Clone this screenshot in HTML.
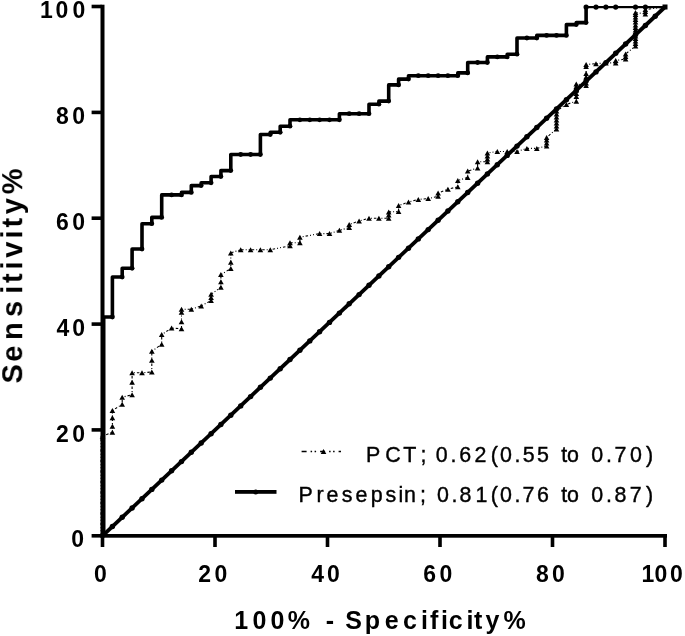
<!DOCTYPE html>
<html><head><meta charset="utf-8"><title>ROC</title>
<style>
html,body{margin:0;padding:0;background:#fff;}
body{width:685px;height:636px;overflow:hidden;}
svg{display:block;font-family:"Liberation Sans",Arial,sans-serif;}
</style></head><body>
<svg width="685" height="636" viewBox="0 0 685 636">
<defs><filter id="bl" x="-5%" y="-5%" width="110%" height="110%"><feGaussianBlur stdDeviation="0.55"/></filter></defs>
<rect width="685" height="636" fill="#fff"/>
<g filter="url(#bl)">
<g fill="#000">
<rect x="100.5" y="4.7" width="4" height="533"/>
<rect x="100.5" y="534" width="566.5" height="3.7"/>
<rect x="91.6" y="534.0" width="10" height="3.6"/><rect x="91.6" y="428.1" width="10" height="3.6"/><rect x="91.6" y="322.3" width="10" height="3.6"/><rect x="91.6" y="216.4" width="10" height="3.6"/><rect x="91.6" y="110.6" width="10" height="3.6"/><rect x="91.6" y="4.7" width="10" height="3.6"/><rect x="100.7" y="536" width="3.6" height="11"/><rect x="213.2" y="536" width="3.6" height="11"/><rect x="325.7" y="536" width="3.6" height="11"/><rect x="438.2" y="536" width="3.6" height="11"/><rect x="550.7" y="536" width="3.6" height="11"/><rect x="663.2" y="536" width="3.6" height="11"/>
</g>
<g fill="#000"><text x="71.3" y="0" font-size="23" font-weight="bold" transform="translate(0,547.4) scale(1,1.05)" xml:space="preserve">0</text><text x="55.9 72.2" y="0" font-size="23" font-weight="bold" transform="translate(0,441.5) scale(1,1.05)" xml:space="preserve">20</text><text x="56.4 72.2" y="0" font-size="23" font-weight="bold" transform="translate(0,335.7) scale(1,1.05)" xml:space="preserve">40</text><text x="55.9 72.2" y="0" font-size="23" font-weight="bold" transform="translate(0,229.8) scale(1,1.05)" xml:space="preserve">60</text><text x="56.0 72.2" y="0" font-size="23" font-weight="bold" transform="translate(0,124.0) scale(1,1.05)" xml:space="preserve">80</text><text x="39.9 55.6 72.4" y="0" font-size="23" font-weight="bold" transform="translate(0,18.1) scale(1,1.05)" xml:space="preserve">100</text><text x="94.0" y="0" font-size="23" font-weight="bold" transform="translate(0,581.7) scale(1,1.05)" xml:space="preserve">0</text><text x="198.3 214.6" y="0" font-size="23" font-weight="bold" transform="translate(0,581.7) scale(1,1.05)" xml:space="preserve">20</text><text x="311.3 327.1" y="0" font-size="23" font-weight="bold" transform="translate(0,581.7) scale(1,1.05)" xml:space="preserve">40</text><text x="423.3 439.6" y="0" font-size="23" font-weight="bold" transform="translate(0,581.7) scale(1,1.05)" xml:space="preserve">60</text><text x="535.9 552.1" y="0" font-size="23" font-weight="bold" transform="translate(0,581.7) scale(1,1.05)" xml:space="preserve">80</text><text x="641.6 654.4 670.1" y="0" font-size="23" font-weight="bold" transform="translate(0,581.7) scale(1,1.05)" xml:space="preserve">100</text>
<text x="234.2 252.4 270.6 287.8 310.0 325.7 334.0 345.2 364.8 384.7 403.1 420.9 430.1 441.1 448.8 466.5 474.0 485.5 503.5" y="628.9" font-size="25" font-weight="bold" xml:space="preserve">100% - Specificity%</text>
<text x="-0.4 21.2 43.1 66.0 89.3 100.1 113.5 125.3 144.5 155.6 168.8 188.8" y="0" font-size="29" font-weight="bold" transform="translate(22.2,383) rotate(-90)" xml:space="preserve">Sensitivity%</text></g>
<!-- diagonal -->
<line x1="102.5" y1="535.8" x2="665" y2="7" stroke="#000" stroke-width="3.8"/>
<g fill="#000"><circle cx="112.4" cy="526.5" r="2.7"/><circle cx="122.2" cy="517.2" r="2.7"/><circle cx="132.1" cy="508.0" r="2.7"/><circle cx="142.0" cy="498.7" r="2.7"/><circle cx="151.8" cy="489.4" r="2.7"/><circle cx="161.7" cy="480.1" r="2.7"/><circle cx="171.6" cy="470.8" r="2.7"/><circle cx="181.5" cy="461.6" r="2.7"/><circle cx="191.3" cy="452.3" r="2.7"/><circle cx="201.2" cy="443.0" r="2.7"/><circle cx="211.1" cy="433.7" r="2.7"/><circle cx="220.9" cy="424.5" r="2.7"/><circle cx="230.8" cy="415.2" r="2.7"/><circle cx="240.7" cy="405.9" r="2.7"/><circle cx="250.6" cy="396.6" r="2.7"/><circle cx="260.4" cy="387.3" r="2.7"/><circle cx="270.3" cy="378.1" r="2.7"/><circle cx="280.2" cy="368.8" r="2.7"/><circle cx="290.0" cy="359.5" r="2.7"/><circle cx="299.9" cy="350.2" r="2.7"/><circle cx="309.8" cy="340.9" r="2.7"/><circle cx="319.6" cy="331.7" r="2.7"/><circle cx="329.5" cy="322.4" r="2.7"/><circle cx="339.4" cy="313.1" r="2.7"/><circle cx="349.2" cy="303.8" r="2.7"/><circle cx="359.1" cy="294.6" r="2.7"/><circle cx="369.0" cy="285.3" r="2.7"/><circle cx="378.9" cy="276.0" r="2.7"/><circle cx="388.7" cy="266.7" r="2.7"/><circle cx="398.6" cy="257.4" r="2.7"/><circle cx="408.5" cy="248.2" r="2.7"/><circle cx="418.3" cy="238.9" r="2.7"/><circle cx="428.2" cy="229.6" r="2.7"/><circle cx="438.1" cy="220.3" r="2.7"/><circle cx="447.9" cy="211.0" r="2.7"/><circle cx="457.8" cy="201.8" r="2.7"/><circle cx="467.7" cy="192.5" r="2.7"/><circle cx="477.6" cy="183.2" r="2.7"/><circle cx="487.4" cy="173.9" r="2.7"/><circle cx="497.3" cy="164.7" r="2.7"/><circle cx="507.2" cy="155.4" r="2.7"/><circle cx="517.0" cy="146.1" r="2.7"/><circle cx="526.9" cy="136.8" r="2.7"/><circle cx="536.8" cy="127.5" r="2.7"/><circle cx="546.6" cy="118.3" r="2.7"/><circle cx="556.5" cy="109.0" r="2.7"/><circle cx="566.4" cy="99.7" r="2.7"/><circle cx="576.3" cy="90.4" r="2.7"/><circle cx="586.1" cy="81.1" r="2.7"/><circle cx="596.0" cy="71.9" r="2.7"/><circle cx="605.9" cy="62.6" r="2.7"/><circle cx="615.7" cy="53.3" r="2.7"/><circle cx="625.6" cy="44.0" r="2.7"/><circle cx="635.5" cy="34.8" r="2.7"/><circle cx="645.4" cy="25.5" r="2.7"/><circle cx="655.2" cy="16.2" r="2.7"/></g>
<!-- PCT -->
<path d="M101.0,535.8 L101.0,436.3 L102.5,436.3 L112.4,432.2 L112.4,426.3 L112.4,417.7 L112.4,410.6 L122.2,404.2 L122.2,397.2 L132.1,394.8 L132.1,382.2 L132.1,372.8 L142.0,372.8 L151.8,372.0 L151.8,360.2 L151.8,351.3 L161.7,344.2 L161.7,334.6 L171.6,328.0 L181.5,328.8 L181.5,321.8 L181.5,312.3 L181.5,309.2 L191.3,309.2 L201.2,306.0 L211.1,300.5 L211.1,297.4 L211.1,294.2 L220.9,287.2 L220.9,281.7 L220.9,274.6 L230.8,268.6 L230.8,262.2 L230.8,252.9 L240.7,249.7 L250.6,249.7 L260.4,249.7 L270.3,249.7 L290.0,245.8 L290.0,242.7 L299.9,242.7 L299.9,237.2 L319.6,233.6 L329.5,233.6 L339.4,230.3 L349.2,227.6 L349.2,224.5 L359.1,221.0 L369.0,218.2 L378.9,218.2 L388.7,218.2 L388.7,215.0 L388.7,211.9 L398.6,211.6 L398.6,205.6 L408.5,202.1 L418.3,199.4 L428.2,198.6 L438.1,196.3 L438.1,193.1 L447.9,189.2 L457.8,186.8 L457.8,180.5 L467.7,177.4 L467.7,171.1 L477.6,168.0 L477.6,161.7 L487.4,161.7 L487.4,159.0 L487.4,156.0 L487.4,153.0 L497.3,151.5 L507.2,151.5 L517.0,151.5 L526.9,148.4 L536.8,148.4 L546.6,146.0 L546.6,143.0 L546.6,140.0 L546.6,137.5 L556.5,129.0 L556.5,126.0 L556.5,123.0 L556.5,120.0 L556.5,117.0 L556.5,114.0 L556.5,111.0 L566.4,104.4 L576.3,101.2 L576.3,96.5 L576.3,93.5 L576.3,90.0 L576.3,86.5 L576.3,84.0 L586.1,85.5 L586.1,83.0 L586.1,77.0 L586.1,73.5 L586.1,66.5 L586.1,64.5 L596.0,63.7 L605.9,62.9 L615.7,62.9 L615.7,60.5 L625.6,59.0 L625.6,56.5 L625.6,54.0 L635.5,46.0 L635.5,43.5 L635.5,41.0 L635.5,38.5 L635.5,36.0 L635.5,33.0 L635.5,30.0 L635.5,27.5 L635.5,25.0 L635.5,22.0 L635.5,19.5 L635.5,17.0 L635.5,14.5 L635.5,12.5 L645.4,14.0 L645.4,11.5 L645.4,9.5 L665.0,7.0" fill="none" stroke="#000" stroke-width="1.1" stroke-dasharray="2.5 2 1 2 1 2"/>
<g fill="#000"><path d="M99.7,438.8L105.3,438.8L102.5,433.8z"/><path d="M109.6,434.7L115.2,434.7L112.4,429.7z"/><path d="M109.6,428.8L115.2,428.8L112.4,423.8z"/><path d="M109.6,420.2L115.2,420.2L112.4,415.2z"/><path d="M109.6,413.1L115.2,413.1L112.4,408.1z"/><path d="M119.4,406.7L125.0,406.7L122.2,401.7z"/><path d="M119.4,399.7L125.0,399.7L122.2,394.7z"/><path d="M129.3,397.3L134.9,397.3L132.1,392.3z"/><path d="M129.3,384.7L134.9,384.7L132.1,379.7z"/><path d="M129.3,375.3L134.9,375.3L132.1,370.3z"/><path d="M139.2,375.3L144.8,375.3L142.0,370.3z"/><path d="M149.0,374.5L154.7,374.5L151.8,369.5z"/><path d="M149.0,362.7L154.7,362.7L151.8,357.7z"/><path d="M149.0,353.8L154.7,353.8L151.8,348.8z"/><path d="M158.9,346.7L164.5,346.7L161.7,341.7z"/><path d="M158.9,337.1L164.5,337.1L161.7,332.1z"/><path d="M168.8,330.5L174.4,330.5L171.6,325.5z"/><path d="M178.7,331.3L184.3,331.3L181.5,326.3z"/><path d="M178.7,324.3L184.3,324.3L181.5,319.3z"/><path d="M178.7,314.8L184.3,314.8L181.5,309.8z"/><path d="M178.7,311.7L184.3,311.7L181.5,306.7z"/><path d="M188.5,311.7L194.1,311.7L191.3,306.7z"/><path d="M198.4,308.5L204.0,308.5L201.2,303.5z"/><path d="M208.3,303.0L213.9,303.0L211.1,298.0z"/><path d="M208.3,299.9L213.9,299.9L211.1,294.9z"/><path d="M208.3,296.7L213.9,296.7L211.1,291.7z"/><path d="M218.1,289.7L223.7,289.7L220.9,284.7z"/><path d="M218.1,284.2L223.7,284.2L220.9,279.2z"/><path d="M218.1,277.1L223.7,277.1L220.9,272.1z"/><path d="M228.0,271.1L233.6,271.1L230.8,266.1z"/><path d="M228.0,264.7L233.6,264.7L230.8,259.7z"/><path d="M228.0,255.4L233.6,255.4L230.8,250.4z"/><path d="M237.9,252.2L243.5,252.2L240.7,247.2z"/><path d="M247.8,252.2L253.4,252.2L250.6,247.2z"/><path d="M257.6,252.2L263.2,252.2L260.4,247.2z"/><path d="M267.5,252.2L273.1,252.2L270.3,247.2z"/><path d="M287.2,248.3L292.8,248.3L290.0,243.3z"/><path d="M287.2,245.2L292.8,245.2L290.0,240.2z"/><path d="M297.1,245.2L302.7,245.2L299.9,240.2z"/><path d="M297.1,239.7L302.7,239.7L299.9,234.7z"/><path d="M316.8,236.1L322.4,236.1L319.6,231.1z"/><path d="M326.7,236.1L332.3,236.1L329.5,231.1z"/><path d="M336.6,232.8L342.2,232.8L339.4,227.8z"/><path d="M346.4,230.1L352.1,230.1L349.2,225.1z"/><path d="M346.4,227.0L352.1,227.0L349.2,222.0z"/><path d="M356.3,223.5L361.9,223.5L359.1,218.5z"/><path d="M366.2,220.7L371.8,220.7L369.0,215.7z"/><path d="M376.1,220.7L381.7,220.7L378.9,215.7z"/><path d="M385.9,220.7L391.5,220.7L388.7,215.7z"/><path d="M385.9,217.5L391.5,217.5L388.7,212.5z"/><path d="M385.9,214.4L391.5,214.4L388.7,209.4z"/><path d="M395.8,214.1L401.4,214.1L398.6,209.1z"/><path d="M395.8,208.1L401.4,208.1L398.6,203.1z"/><path d="M405.7,204.6L411.3,204.6L408.5,199.6z"/><path d="M415.5,201.9L421.1,201.9L418.3,196.9z"/><path d="M425.4,201.1L431.0,201.1L428.2,196.1z"/><path d="M435.3,198.8L440.9,198.8L438.1,193.8z"/><path d="M435.3,195.6L440.9,195.6L438.1,190.6z"/><path d="M445.1,191.7L450.8,191.7L447.9,186.7z"/><path d="M455.0,189.3L460.6,189.3L457.8,184.3z"/><path d="M455.0,183.0L460.6,183.0L457.8,178.0z"/><path d="M464.9,179.9L470.5,179.9L467.7,174.9z"/><path d="M464.9,173.6L470.5,173.6L467.7,168.6z"/><path d="M474.8,170.5L480.4,170.5L477.6,165.5z"/><path d="M474.8,164.2L480.4,164.2L477.6,159.2z"/><path d="M484.6,164.2L490.2,164.2L487.4,159.2z"/><path d="M484.6,161.5L490.2,161.5L487.4,156.5z"/><path d="M484.6,158.5L490.2,158.5L487.4,153.5z"/><path d="M484.6,155.5L490.2,155.5L487.4,150.5z"/><path d="M494.5,154.0L500.1,154.0L497.3,149.0z"/><path d="M504.4,154.0L510.0,154.0L507.2,149.0z"/><path d="M514.2,154.0L519.8,154.0L517.0,149.0z"/><path d="M524.1,150.9L529.7,150.9L526.9,145.9z"/><path d="M534.0,150.9L539.6,150.9L536.8,145.9z"/><path d="M543.9,148.5L549.4,148.5L546.6,143.5z"/><path d="M543.9,145.5L549.4,145.5L546.6,140.5z"/><path d="M543.9,142.5L549.4,142.5L546.6,137.5z"/><path d="M543.9,140.0L549.4,140.0L546.6,135.0z"/><path d="M553.7,131.5L559.3,131.5L556.5,126.5z"/><path d="M553.7,128.5L559.3,128.5L556.5,123.5z"/><path d="M553.7,125.5L559.3,125.5L556.5,120.5z"/><path d="M553.7,122.5L559.3,122.5L556.5,117.5z"/><path d="M553.7,119.5L559.3,119.5L556.5,114.5z"/><path d="M553.7,116.5L559.3,116.5L556.5,111.5z"/><path d="M553.7,113.5L559.3,113.5L556.5,108.5z"/><path d="M563.6,106.9L569.2,106.9L566.4,101.9z"/><path d="M573.5,103.7L579.1,103.7L576.3,98.7z"/><path d="M573.5,99.0L579.1,99.0L576.3,94.0z"/><path d="M573.5,96.0L579.1,96.0L576.3,91.0z"/><path d="M573.5,92.5L579.1,92.5L576.3,87.5z"/><path d="M573.5,89.0L579.1,89.0L576.3,84.0z"/><path d="M573.5,86.5L579.1,86.5L576.3,81.5z"/><path d="M583.3,88.0L588.9,88.0L586.1,83.0z"/><path d="M583.3,85.5L588.9,85.5L586.1,80.5z"/><path d="M583.3,79.5L588.9,79.5L586.1,74.5z"/><path d="M583.3,76.0L588.9,76.0L586.1,71.0z"/><path d="M583.3,69.0L588.9,69.0L586.1,64.0z"/><path d="M583.3,67.0L588.9,67.0L586.1,62.0z"/><path d="M593.2,66.2L598.8,66.2L596.0,61.2z"/><path d="M603.1,65.4L608.7,65.4L605.9,60.4z"/><path d="M612.9,65.4L618.5,65.4L615.7,60.4z"/><path d="M612.9,63.0L618.5,63.0L615.7,58.0z"/><path d="M622.8,61.5L628.4,61.5L625.6,56.5z"/><path d="M622.8,59.0L628.4,59.0L625.6,54.0z"/><path d="M622.8,56.5L628.4,56.5L625.6,51.5z"/><path d="M632.7,48.5L638.3,48.5L635.5,43.5z"/><path d="M632.7,46.0L638.3,46.0L635.5,41.0z"/><path d="M632.7,43.5L638.3,43.5L635.5,38.5z"/><path d="M632.7,41.0L638.3,41.0L635.5,36.0z"/><path d="M632.7,38.5L638.3,38.5L635.5,33.5z"/><path d="M632.7,35.5L638.3,35.5L635.5,30.5z"/><path d="M632.7,32.5L638.3,32.5L635.5,27.5z"/><path d="M632.7,30.0L638.3,30.0L635.5,25.0z"/><path d="M632.7,27.5L638.3,27.5L635.5,22.5z"/><path d="M632.7,24.5L638.3,24.5L635.5,19.5z"/><path d="M632.7,22.0L638.3,22.0L635.5,17.0z"/><path d="M632.7,19.5L638.3,19.5L635.5,14.5z"/><path d="M632.7,17.0L638.3,17.0L635.5,12.0z"/><path d="M632.7,15.0L638.3,15.0L635.5,10.0z"/><path d="M642.6,16.5L648.1,16.5L645.4,11.5z"/><path d="M642.6,14.0L648.1,14.0L645.4,9.0z"/><path d="M642.6,12.0L648.1,12.0L645.4,7.0z"/></g>
<!-- presepsin -->
<path d="M103.7,535.8 L103.7,317.0 L103.7,317.0 L112.4,317.0 L112.4,277.0 L122.2,277.0 L122.2,268.3 L132.1,268.3 L132.1,249.0 L142.0,249.0 L142.0,223.7 L151.8,223.7 L151.8,217.4 L161.7,217.4 L161.7,194.9 L171.6,194.9 L171.6,194.9 L181.5,194.9 L181.5,192.4 L191.3,192.4 L191.3,185.6 L201.2,185.6 L201.2,182.8 L211.1,182.8 L211.1,176.5 L220.9,176.5 L220.9,170.6 L230.8,170.6 L230.8,154.5 L240.7,154.5 L240.7,154.5 L250.6,154.5 L250.6,154.5 L260.4,154.5 L260.4,134.5 L270.3,134.5 L270.3,132.3 L280.2,132.3 L280.2,126.2 L290.0,126.2 L290.0,119.8 L299.9,119.8 L299.9,119.8 L309.8,119.8 L309.8,119.8 L319.6,119.8 L319.6,119.8 L329.5,119.8 L329.5,119.8 L339.4,119.8 L339.4,113.7 L349.2,113.7 L349.2,113.7 L359.1,113.7 L359.1,113.7 L369.0,113.7 L369.0,104.2 L378.9,104.2 L378.9,101.1 L388.7,101.1 L388.7,84.9 L398.6,84.9 L398.6,79.1 L408.5,79.1 L408.5,75.7 L418.3,75.7 L418.3,75.7 L428.2,75.7 L428.2,75.7 L438.1,75.7 L438.1,75.7 L447.9,75.7 L447.9,75.7 L457.8,75.7 L457.8,72.9 L467.7,72.9 L467.7,62.5 L477.6,62.5 L477.6,62.5 L487.4,62.5 L487.4,56.9 L497.3,56.9 L497.3,56.9 L507.2,56.9 L507.2,54.2 L517.0,54.2 L517.0,38.0 L526.9,38.0 L526.9,38.0 L536.8,38.0 L536.8,35.4 L546.6,35.4 L546.6,35.4 L556.5,35.4 L556.5,35.4 L566.4,35.4 L566.4,24.6 L576.3,24.6 L576.3,22.6 L586.1,22.6 L586.1,7.6" fill="none" stroke="#000" stroke-width="3.6" stroke-linejoin="round"/>
<rect x="586.13" y="6" width="78.9" height="2.2" fill="#000"/>
<g fill="#000"><circle cx="112.4" cy="317.0" r="2.4"/><circle cx="122.2" cy="277.0" r="2.4"/><circle cx="132.1" cy="268.3" r="2.4"/><circle cx="142.0" cy="249.0" r="2.4"/><circle cx="151.8" cy="223.7" r="2.4"/><circle cx="161.7" cy="217.4" r="2.4"/><circle cx="171.6" cy="194.9" r="2.4"/><circle cx="181.5" cy="194.9" r="2.4"/><circle cx="191.3" cy="192.4" r="2.4"/><circle cx="201.2" cy="185.6" r="2.4"/><circle cx="211.1" cy="182.8" r="2.4"/><circle cx="220.9" cy="176.5" r="2.4"/><circle cx="230.8" cy="170.6" r="2.4"/><circle cx="240.7" cy="154.5" r="2.4"/><circle cx="250.6" cy="154.5" r="2.4"/><circle cx="260.4" cy="154.5" r="2.4"/><circle cx="270.3" cy="134.5" r="2.4"/><circle cx="280.2" cy="132.3" r="2.4"/><circle cx="290.0" cy="126.2" r="2.4"/><circle cx="299.9" cy="119.8" r="2.4"/><circle cx="309.8" cy="119.8" r="2.4"/><circle cx="319.6" cy="119.8" r="2.4"/><circle cx="329.5" cy="119.8" r="2.4"/><circle cx="339.4" cy="119.8" r="2.4"/><circle cx="349.2" cy="113.7" r="2.4"/><circle cx="359.1" cy="113.7" r="2.4"/><circle cx="369.0" cy="113.7" r="2.4"/><circle cx="378.9" cy="104.2" r="2.4"/><circle cx="388.7" cy="101.1" r="2.4"/><circle cx="398.6" cy="84.9" r="2.4"/><circle cx="408.5" cy="79.1" r="2.4"/><circle cx="418.3" cy="75.7" r="2.4"/><circle cx="428.2" cy="75.7" r="2.4"/><circle cx="438.1" cy="75.7" r="2.4"/><circle cx="447.9" cy="75.7" r="2.4"/><circle cx="457.8" cy="75.7" r="2.4"/><circle cx="467.7" cy="72.9" r="2.4"/><circle cx="477.6" cy="62.5" r="2.4"/><circle cx="487.4" cy="62.5" r="2.4"/><circle cx="497.3" cy="56.9" r="2.4"/><circle cx="507.2" cy="56.9" r="2.4"/><circle cx="517.0" cy="54.2" r="2.4"/><circle cx="526.9" cy="38.0" r="2.4"/><circle cx="536.8" cy="38.0" r="2.4"/><circle cx="546.6" cy="35.4" r="2.4"/><circle cx="556.5" cy="35.4" r="2.4"/><circle cx="566.4" cy="35.4" r="2.4"/><circle cx="576.3" cy="24.6" r="2.4"/><circle cx="586.1" cy="22.6" r="2.4"/><circle cx="586.1" cy="7.1" r="2.6"/><circle cx="596.0" cy="7.1" r="2.6"/><circle cx="605.9" cy="7.1" r="2.6"/><circle cx="615.7" cy="7.1" r="2.6"/><circle cx="635.5" cy="7.1" r="2.6"/><circle cx="645.4" cy="7.1" r="2.6"/><rect x="662.5" y="4.5" width="5" height="5"/></g>
<!-- legend -->
<g fill="#000">
<path d="M301.6,451.4H341" fill="none" stroke="#000" stroke-width="1.5" stroke-dasharray="5 4 1.5 2.5 1.5 4"/>
<path d="M320.7,453.9L326.3,453.9L323.5,448.9z"/>
<text x="365.9 385.2 403.3 420.5 426.4 435.8 450.6 459.2 474.5 490.7 499.9 514.6 522.7 537.1 549.0 561.2 567.1 579.0 591.3 605.9 614.4 630.1 646.1" y="462.3" font-size="21.4" stroke="#000" stroke-width="0.4" xml:space="preserve">PCT; 0.62(0.55 to 0.70)</text>
<rect x="235" y="490" width="41.5" height="3.8"/>
<circle cx="255.7" cy="491.9" r="2.5"/>
<text x="298.5 316.4 326.5 341.7 355.4 370.7 385.5 398.4 404.1 420.0 425.9 436.9 451.4 459.5 475.5 490.7 499.9 514.6 522.5 536.9 548.8 561.2 567.1 579.0 591.3 605.9 614.6 629.8 646.1" y="502.4" font-size="21.4" stroke="#000" stroke-width="0.4" xml:space="preserve">Presepsin; 0.81(0.76 to 0.87)</text>
</g>
</g>
</svg>
</body></html>
